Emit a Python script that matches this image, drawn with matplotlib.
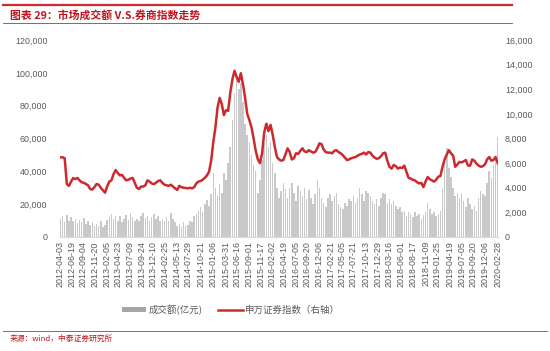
import matplotlib
matplotlib.use("Agg")
import matplotlib.pyplot as plt
import matplotlib.transforms as mtransforms
from matplotlib.patches import Patch
from matplotlib.lines import Line2D
from matplotlib.ticker import FuncFormatter
import pandas as pd

plt.rcParams['font.family'] = ['Liberation Sans', 'Noto Sans CJK SC', 'DejaVu Sans']

# ---- data (bi-weekly samples) ----
dates = pd.date_range(start='2012-04-06', periods=207, freq='14D')

turnover = [
    11000, 12500, 9000, 13500, 10000, 12000, 9500, 11000, 8500, 10500,
    9000, 11500, 8000, 10000, 7500, 9000, 6500, 8000, 7000, 9500,
    6000, 7500, 10500, 12000, 14000, 11000, 13000, 10000, 12500, 9000,
    11000, 13500, 10500, 14500, 12000, 9500, 11000, 10000, 13000, 14500,
    11500, 13000, 10000, 12000, 14000, 11000, 12500, 10000, 11000, 9500,
    12000, 10000, 14500, 11000, 9000, 7000, 8000, 6000, 9000, 6500,
    7500, 10000, 9000, 12500, 14000, 16000, 18000, 15000, 20000, 22500,
    19000, 26000, 39000, 30000, 25000, 32000, 27000, 39000, 35000, 45000,
    55000, 71000, 88000, 96000, 90000, 94000, 82000, 69000, 62000, 57000,
    50000, 44000, 40000, 27000, 35000, 47000, 57000, 62000, 55000, 58000,
    45000, 39000, 30000, 24000, 28000, 33000, 29000, 24000, 30000, 33000,
    27000, 22000, 31000, 28000, 25000, 30000, 23000, 28600, 24000, 20000,
    26000, 34700, 30000, 24000, 21000, 18000, 24000, 26000, 22000, 25000,
    27000, 20000, 18000, 17000, 21000, 19000, 23000, 22000, 25000, 21000,
    24000, 30000, 26000, 22000, 28000, 27000, 25000, 22000, 20000, 23000,
    19000, 24000, 27000, 26000, 21000, 23000, 20000, 22000, 19000, 17000,
    18000, 15000, 16000, 13000, 15000, 14000, 12000, 15000, 13000, 14000,
    11000, 13400, 15000, 21000, 17000, 14000, 15000, 13000, 14000, 16000,
    30000, 45000, 54000, 42000, 36500, 30000, 25000, 27000, 24000, 26000,
    22000, 18000, 24000, 20000, 17000, 19000, 16000, 24000, 28000, 26000,
    25000, 33000, 40000, 36000, 44000, 48000, 61000,
]

sw_index = [
    6470, 6470, 6400, 4300, 4150, 4500, 4790, 4700, 4800, 4600,
    4450, 4400, 4300, 4200, 3900, 3850, 4050, 4300, 4250, 4000,
    3800, 3600, 4100, 4500, 4600, 5100, 5440, 5200, 5000, 5050,
    4800, 4600, 4650, 4750, 4800, 4400, 4000, 3900, 4100, 4100,
    4200, 4600, 4500, 4350, 4300, 4400, 4550, 4600, 4400, 4250,
    4200, 4150, 4250, 4100, 3950, 3820, 4150, 4050, 4000, 3980,
    3950, 4000, 3950, 4050, 4350, 4500, 4550, 4650, 4800, 5000,
    5300, 6200, 7700, 8900, 10500, 11300, 10800, 9900, 10300, 10250,
    11700, 12800, 13500, 13000, 12600, 13300, 12400, 11300, 10000, 9500,
    8900, 8000, 7000, 6300, 6000, 6800, 8500, 9200, 8600, 9100,
    8300, 7300, 6500, 6300, 6200, 6250, 6700, 7200, 6900, 6300,
    6400, 6800, 6750, 7000, 7200, 6950, 6900, 7050, 6950, 6850,
    6900, 7200, 7600, 7550, 7100, 6900, 6850, 6850, 6800, 7000,
    7050, 6900, 6800, 6650, 6450, 6250, 6300, 6400, 6450, 6500,
    6600, 6700, 6750, 6850, 6700, 6900, 6850, 6600, 6450, 6350,
    6400, 6550, 6800, 6850, 6200, 5700, 5550, 5850, 5750, 5550,
    5650, 5600, 5800, 5300, 4800, 4750, 4650, 4600, 4450, 4350,
    4400, 4050, 4500, 4870, 4700, 4600, 4500, 4650, 4900, 4950,
    5700, 6300, 6700, 7050, 6800, 6600, 5700, 5900, 6100, 6050,
    6150, 6250, 5800, 5800, 6300, 6200, 5950, 5800, 5700, 5750,
    5900, 6300, 6500, 6200, 6250, 6500, 6000,
]

tick_labels = [
    '2012-04-03', '2012-06-19', '2012-09-04', '2012-11-20', '2013-02-05',
    '2013-04-23', '2013-07-09', '2013-09-24', '2013-12-10', '2014-02-25',
    '2014-05-13', '2014-07-29', '2014-10-21', '2015-01-06', '2015-03-31',
    '2015-06-16', '2015-09-01', '2015-11-17', '2016-02-02', '2016-04-19',
    '2016-07-05', '2016-09-20', '2016-12-06', '2017-02-21', '2017-05-05',
    '2017-07-21', '2017-10-13', '2017-12-29', '2018-03-16', '2018-06-01',
    '2018-08-17', '2018-11-09', '2019-01-25', '2019-04-19', '2019-07-05',
    '2019-09-20', '2019-12-06', '2020-02-28',
]
left_ticks = [0, 20000, 40000, 60000, 80000, 100000, 120000]
right_ticks = [0, 2000, 4000, 6000, 8000, 10000, 12000, 14000, 16000]

series_names = ['成交额(亿元)', '申万证券指数（右轴）']

# ---- style ----
RED = '#cc2a2f'
BAR = '#c9c9c9'
TXT = '#595959'
TITLE_RED = '#c0141c'

fig = plt.figure(figsize=(5.5, 3.51), dpi=100)
ax = fig.add_axes([60 / 550, 114 / 351, 438 / 550, 197 / 351])

ax.bar(dates, turnover, width=10, color=BAR, linewidth=0, align='center')
ax.set_ylim(0, 120000)
ax.set_yticks(left_ticks)
fmt = FuncFormatter(lambda v, p: f'{int(v):,}')
ax.yaxis.set_major_formatter(fmt)
ax.set_xlim(pd.Timestamp('2012-04-04'), pd.Timestamp('2020-03-01'))

tick_pos = pd.to_datetime(tick_labels)
ax.set_xticks(tick_pos)
ax.set_xticklabels(tick_labels, rotation=90, fontsize=6.4, color=TXT)
shift = mtransforms.ScaledTranslation(4 / 100, 0, fig.dpi_scale_trans)
for lab in ax.get_xticklabels():
    lab.set_transform(lab.get_transform() + shift)
ax.tick_params(axis='x', length=0, pad=3)
ax.tick_params(axis='y', length=0, labelsize=6.4, labelcolor=TXT, pad=9)

for s in ['top', 'right', 'left']:
    ax.spines[s].set_visible(False)
ax.spines['bottom'].set_color('#d9d9d9')
ax.spines['bottom'].set_linewidth(0.8)

ax2 = ax.twinx()
ax2.plot(dates, sw_index, color=RED, linewidth=1.8, solid_joinstyle='round')
ax2.set_ylim(0, 16000)
ax2.set_yticks(right_ticks)
ax2.yaxis.set_major_formatter(fmt)
ax2.tick_params(axis='y', length=0, labelsize=6.4, labelcolor=TXT, pad=5)
for s in ['top', 'right', 'left', 'bottom']:
    ax2.spines[s].set_visible(False)

handles = [Patch(facecolor='#a6a6a6', edgecolor='none'),
           Line2D([0], [0], color=RED, linewidth=1.8)]
leg = fig.legend(handles, series_names, loc='center', bbox_to_anchor=(0.42, 0.117),
                 ncol=2, frameon=False, handlelength=2.6, handleheight=0.5,
                 columnspacing=1.6, handletextpad=0.3,
                 prop={'family': ['Noto Sans CJK SC', 'DejaVu Sans'], 'size': 6.8})
for t in leg.get_texts():
    t.set_color(TXT)

# ---- header / footer decorations ----
fig.add_artist(Line2D([3 / 550, 512 / 550], [1 - 5 / 351, 1 - 5 / 351], color=RED, linewidth=1.6))
fig.add_artist(Line2D([3 / 550, 512 / 550], [1 - 23 / 351, 1 - 23 / 351], color=RED, linewidth=0.6))
fig.text(10 / 550, 1 - 15 / 351, '图表 29：市场成交额 V.S.券商指数走势', color=TITLE_RED,
         fontsize=7.8, fontweight='bold', style='italic', va='center', ha='left',
         family=['Noto Sans CJK SC', 'DejaVu Sans'])
fig.add_artist(Line2D([3 / 550, 547 / 550], [1 - 331 / 351, 1 - 331 / 351], color=RED, linewidth=0.6))
fig.text(10 / 550, 1 - 339 / 351, '来源：wind，中泰证券研究所', color=TITLE_RED,
         fontsize=5.6, va='center', ha='left', family=['Noto Sans CJK SC', 'DejaVu Sans'])

fig.savefig('out.png', dpi=100)
